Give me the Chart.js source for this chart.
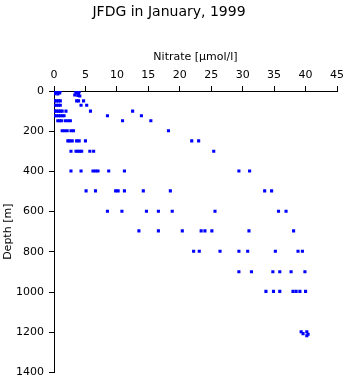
<!DOCTYPE html>
<html lang="en">
<head>
  <meta charset="UTF-8">
  <title>JFDG in January, 1999</title>
  <script src="https://cdn.jsdelivr.net/npm/chart.js"></script>
  <style>
    html, body { margin: 0; padding: 0; background: #fff; }
    #wrap { width: 348px; height: 384px; }
  </style>
</head>
<body>
  <div id="wrap"><canvas id="chart" width="348" height="384"></canvas></div>
  <script>
    // near-surface samples (0-30 m)
    const surfaceNitrate = [0.1, 0.4, 0.7, 1.0, 0.2, 0.5, 0.9, 0.1, 0.6, 3.4, 3.7, 4.0, 3.5, 3.9, 3.3, 3.8, 4.1];
    const surfaceDepth   = [0,   0,   2,   0,   6,   8,   10,  14,  15,  0,   0,   3,   10,  12,  20,  22,  25];

    // sampling depths and nitrate values found at each
    const depths = [49, 71, 100, 123, 148, 198, 248, 300, 398, 497, 598, 696, 797, 899, 997];
    const nitrateByDepth = [
      [0.1, 0.4, 0.7, 1.0, 3.6, 3.9, 4.7],
      [0.1, 0.4, 0.7, 1.0, 4.3, 5.2],
      [0.1, 0.4, 0.7, 1.0, 1.3, 1.9, 5.8, 12.5],
      [0.1, 0.4, 0.7, 1.0, 1.3, 1.6, 8.5, 13.9],
      [0.6, 0.9, 1.2, 1.8, 2.2, 2.6, 10.9, 15.4],
      [1.3, 1.7, 2.1, 2.7, 3.1, 18.2],
      [2.2, 2.5, 2.9, 3.6, 4.0, 5.0, 21.9, 23.0],
      [2.7, 3.5, 3.8, 4.1, 4.4, 5.7, 6.3, 25.4],
      [2.7, 4.3, 6.2, 6.6, 7.0, 8.7, 11.2, 29.4, 31.1],
      [5.1, 6.6, 9.8, 10.2, 11.2, 14.2, 18.5, 33.5, 34.6],
      [8.5, 10.8, 14.7, 16.6, 18.8, 25.6, 35.7, 36.9],
      [13.5, 16.6, 20.4, 23.4, 24.0, 25.1, 31.0, 38.1],
      [22.2, 23.1, 26.4, 29.4, 30.8, 35.2, 38.8, 39.5],
      [29.4, 31.4, 34.8, 35.9, 37.7, 39.9],
      [33.7, 34.9, 35.9, 38.0, 38.5, 39.1, 40.0]
    ];

    // deepest cast (~1200 m)
    const deepNitrate = [39.3, 39.6, 40.2, 40.4, 40.2];
    const deepDepth   = [1198, 1207, 1198, 1210, 1218];

    const xTicks = [0, 5, 10, 15, 20, 25, 30, 35, 40, 45];
    const yTicks = [0, 200, 400, 600, 800, 1000, 1200, 1400];

    // build point list
    const points = [];
    surfaceNitrate.forEach((n, i) => points.push({ x: n, y: surfaceDepth[i] }));
    depths.forEach((d, i) => nitrateByDepth[i].forEach(n => points.push({ x: n, y: d })));
    deepNitrate.forEach((n, i) => points.push({ x: n, y: deepDepth[i] }));

    const font = { family: 'DejaVu Sans', size: 11 };

    new Chart(document.getElementById('chart'), {
      type: 'scatter',
      data: {
        datasets: [{
          data: points,
          pointStyle: 'rect',
          pointRadius: 2.2,
          pointBorderWidth: 0,
          backgroundColor: '#0000ff',
          borderColor: '#0000ff'
        }]
      },
      options: {
        responsive: false,
        animation: false,
        layout: { padding: { left: 0, right: 10, top: 0, bottom: 9 } },
        plugins: {
          legend: { display: false },
          tooltip: { enabled: false },
          title: {
            display: true,
            text: 'JFDG in January, 1999',
            color: '#000',
            font: { family: 'DejaVu Sans', size: 14, weight: 'normal' },
            padding: { top: 4, bottom: 0 }
          }
        },
        scales: {
          x: {
            type: 'linear',
            position: 'top',
            min: 0,
            max: 45,
            afterBuildTicks: s => { s.ticks = xTicks.map(v => ({ value: v })); },
            afterFit: s => { s.height = 70.2; },
            title: {
              display: true,
              text: 'Nitrate [µmol/l]',
              color: '#000',
              font: font,
              padding: { top: 29.6, bottom: 0 }
            },
            ticks: { color: '#000', font: font, padding: 4, maxRotation: 0, callback: v => String(v) },
            grid: { drawOnChartArea: false, tickLength: 5, color: '#000' },
            border: { color: '#000', width: 1 }
          },
          y: {
            type: 'linear',
            reverse: true,
            min: 0,
            max: 1400,
            afterBuildTicks: s => { s.ticks = yTicks.map(v => ({ value: v })); },
            afterFit: s => { s.width = 54; },
            title: {
              display: true,
              text: 'Depth [m]',
              color: '#000',
              font: font,
              padding: { top: 1.5, bottom: 0 }
            },
            ticks: { color: '#000', font: font, padding: 5, callback: v => String(v) },
            grid: { drawOnChartArea: false, tickLength: 5, color: '#000' },
            border: { color: '#000', width: 1 }
          }
        }
      }
    });
  </script>
</body>
</html>
